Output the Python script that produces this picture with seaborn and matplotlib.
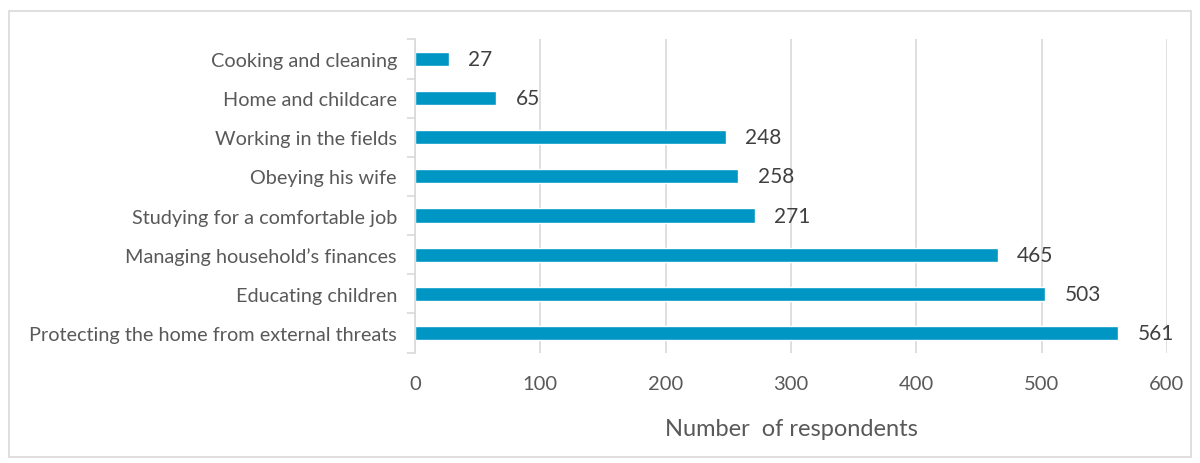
import matplotlib
matplotlib.use("Agg")
import matplotlib.pyplot as plt
import matplotlib.patches as mpatches
import numpy as np
import pandas as pd
import seaborn as sns

categories = [
    "Cooking and cleaning",
    "Home and childcare",
    "Working in the fields",
    "Obeying his wife",
    "Studying for a comfortable job",
    "Managing household\u2019s finances",
    "Educating children",
    "Protecting the home from external threats",
]
respondents = [27, 65, 248, 258, 271, 465, 503, 561]
x_ticks = [0, 100, 200, 300, 400, 500, 600]

sns.set_theme(style="white")
plt.rcParams["font.family"] = ["Lato", "DejaVu Sans"]

text_color = "#595959"
bar_color = "#0096C4"
grid_color = "#d9d9d9"

df = pd.DataFrame({"task": categories, "count": respondents})

fig = plt.figure(figsize=(12, 4.64), dpi=100)
ax = fig.add_axes([0.3458, 0.238, 0.6267, 0.675])

sns.barplot(data=df, x="count", y="task", orient="h", color=bar_color,
            width=0.36, saturation=1, ax=ax)

ax.set_xlim(0, 600)
ax.set_ylim(len(categories) - 0.5, -0.5)
ax.set_xticks(x_ticks)
ax.set_xticklabels([str(t) for t in x_ticks], color=text_color, fontsize=14.5)
ax.tick_params(axis="x", length=0, pad=16)
ax.xaxis.grid(True, color=grid_color, linewidth=1.2)
ax.set_axisbelow(True)

# category labels; boundary tick marks drawn as minor ticks
ax.tick_params(axis="y", which="major", length=0, pad=13, labelsize=14.3,
               labelcolor=text_color)
ax.set_yticks(np.arange(-0.5, len(categories)), minor=True)
ax.tick_params(axis="y", which="minor", length=6, width=1.2, color=grid_color,
               left=True)

for side in ["top", "right", "bottom"]:
    ax.spines[side].set_visible(False)
ax.spines["left"].set_color(grid_color)
ax.spines["left"].set_linewidth(1.2)

ax.set_xlabel("Number  of respondents", fontsize=17, color=text_color, labelpad=19)
ax.set_ylabel("")

ax.bar_label(ax.containers[0], labels=[str(v) for v in respondents],
             padding=14, fontsize=15, color="#404040")

fig.patches.append(mpatches.Rectangle((0.0075, 0.012), 0.985, 0.962,
                                      transform=fig.transFigure, fill=False,
                                      edgecolor="#d9d9d9", linewidth=1.2))

fig.savefig("out.png", dpi=100, facecolor="white")
